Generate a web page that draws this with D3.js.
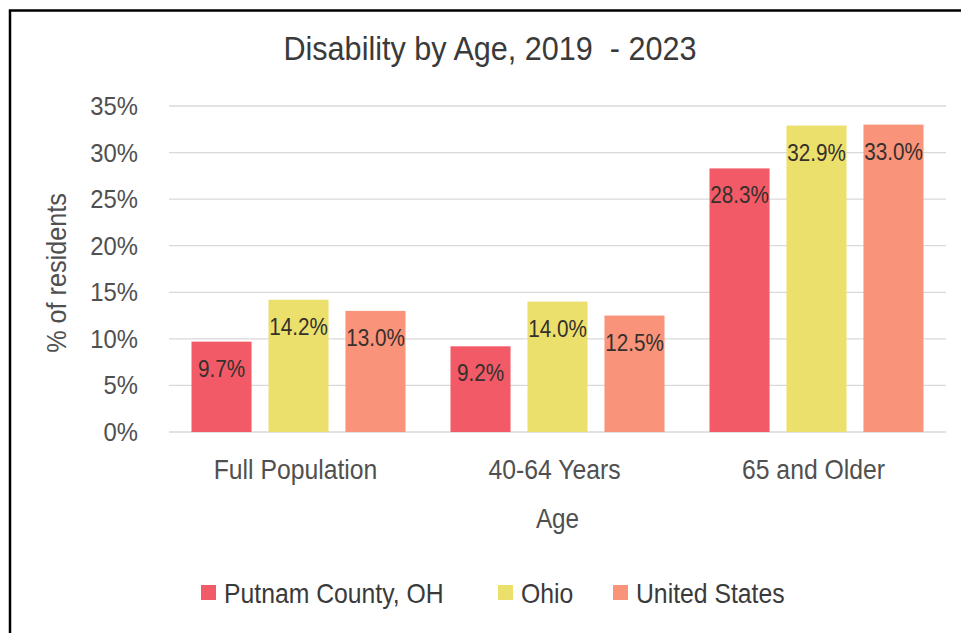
<!DOCTYPE html>
<html>
<head>
<meta charset="utf-8">
<script src="https://cdn.jsdelivr.net/npm/d3@7"></script>
<style>
  html, body { margin: 0; padding: 0; background: #ffffff; }
  svg { display: block; }
  text { font-family: "Liberation Sans", Arial, sans-serif; }
</style>
</head>
<body>
<svg id="chart" width="961" height="633"></svg>
<script>
// Disability rate by age group, 2019-2023 ACS estimates
const ageGroups = ["Full Population", "40-64 Years", "65 and Older"];
const seriesNames = ["Putnam County, OH", "Ohio", "United States"];
const putnamValues = [9.7, 9.2, 28.3];
const ohioValues = [14.2, 14.0, 32.9];
const usValues = [13.0, 12.5, 33.0];
const yTicks = [0, 5, 10, 15, 20, 25, 30, 35];
const seriesColors = ["#f25a67", "#ece06c", "#f9937a"];

const seriesValues = [putnamValues, ohioValues, usValues];
const rows = [];
ageGroups.forEach((g, gi) => {
  seriesNames.forEach((s, si) => {
    rows.push({ group: g, series: s, value: seriesValues[si][gi], si });
  });
});

const svg = d3.select("#chart");
const plot = { left: 169, right: 946, top: 106, bottom: 432 };
const squeezeX = 0.9;

// Place text with a slight horizontal condensation
function place(sel, x, y, rotate) {
  sel.attr("transform", `translate(${x},${y})` + (rotate ? ` rotate(${rotate})` : "") + ` scale(${squeezeX},1)`);
  return sel;
}

// Frame
svg.append("path")
  .attr("d", "M10,633 L10,10.5 L961,10.5")
  .attr("fill", "none")
  .attr("stroke", "#000")
  .attr("stroke-width", 2.5);

const x0 = d3.scaleBand().domain(ageGroups).range([plot.left, plot.right]).padding(0);
const x1 = d3.scaleBand().domain(seriesNames)
  .range([22.5, x0.bandwidth() - 22.5])
  .paddingInner(0.22).paddingOuter(0);
const y = d3.scaleLinear().domain([0, 35]).range([plot.bottom, plot.top]);

// Gridlines
svg.append("g").selectAll("line").data(yTicks).join("line")
  .attr("x1", plot.left).attr("x2", plot.right)
  .attr("y1", d => y(d)).attr("y2", d => y(d))
  .attr("stroke", "#d9d9d9").attr("stroke-width", 1.3);

// Y tick labels
svg.append("g").selectAll("text").data(yTicks).join("text")
  .attr("text-anchor", "end")
  .attr("font-size", 26.5)
  .attr("fill", "#505050")
  .text(d => d + "%")
  .each(function (d) { place(d3.select(this), 138, y(d) + 9); });

// Bars
const groups = svg.append("g").selectAll("g").data(ageGroups).join("g")
  .attr("transform", d => `translate(${x0(d)},0)`);

groups.selectAll("rect").data(g => rows.filter(r => r.group === g)).join("rect")
  .attr("x", d => x1(d.series))
  .attr("width", x1.bandwidth())
  .attr("y", d => y(d.value))
  .attr("height", d => y(0) - y(d.value))
  .attr("fill", d => seriesColors[d.si]);

// Value labels inside the top of each bar
groups.selectAll("text").data(g => rows.filter(r => r.group === g)).join("text")
  .attr("text-anchor", "middle")
  .attr("font-size", 23)
  .attr("fill", "#35302c")
  .text(d => d.value.toFixed(1) + "%")
  .each(function (d) { place(d3.select(this), x1(d.series) + x1.bandwidth() / 2, y(d.value) + 35); });

// X tick labels
svg.append("g").selectAll("text").data(ageGroups).join("text")
  .attr("text-anchor", "middle")
  .attr("font-size", 27.5)
  .attr("fill", "#505050")
  .text(d => d)
  .each(function (d) { place(d3.select(this), x0(d) + x0.bandwidth() / 2 - 3, 479); });

// Axis titles
place(svg.append("text")
  .attr("text-anchor", "middle")
  .attr("font-size", 27)
  .attr("fill", "#505050")
  .text("Age"), (plot.left + plot.right) / 2, 528);

place(svg.append("text")
  .attr("text-anchor", "middle")
  .attr("font-size", 28)
  .attr("fill", "#505050")
  .text("% of residents"), 66, (plot.top + plot.bottom) / 2 + 4, -90);

// Title
place(svg.append("text")
  .attr("text-anchor", "middle")
  .attr("font-size", 34)
  .attr("fill", "#3a3a3a")
  .attr("xml:space", "preserve")
  .style("white-space", "pre")
  .text("Disability by Age, 2019  - 2023"), 490, 60);

// Legend
const legendX = [201, 498, 613];
const legend = svg.append("g").selectAll("g").data(seriesNames).join("g")
  .attr("transform", (d, i) => `translate(${legendX[i]},585)`);
legend.append("rect")
  .attr("width", 15).attr("height", 15)
  .attr("fill", (d, i) => seriesColors[i]);
legend.append("text")
  .attr("font-size", 27.5)
  .attr("fill", "#3a3a3a")
  .text(d => d)
  .each(function () { place(d3.select(this), 23, 18); });
</script>
</body>
</html>
